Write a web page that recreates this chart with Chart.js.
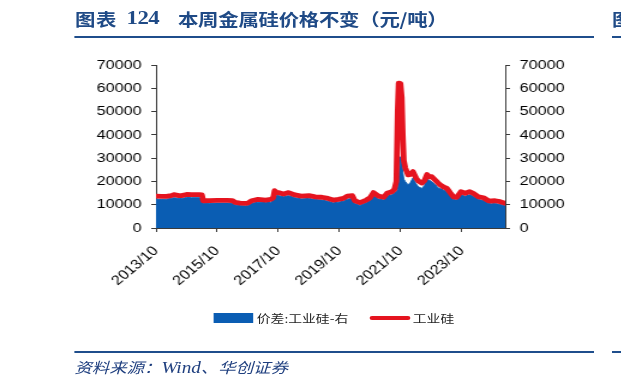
<!DOCTYPE html>
<html>
<head>
<meta charset="utf-8">
<script src="https://cdn.jsdelivr.net/npm/chart.js@4/dist/chart.umd.min.js"></script>
<style>
  html, body { margin: 0; padding: 0; background: #fff; }
  body { width: 621px; height: 387px; overflow: hidden; position: relative; }
  #wrap { position: absolute; left: 0; top: 0; width: 518px; height: 387px; transform: scaleX(1.2); transform-origin: 0 0; }
  .tt { position: absolute; top: 7px; font-family: "Noto Sans CJK SC", sans-serif; font-weight: 700; font-size: 17px; color: #1F4A86; white-space: nowrap; line-height: 24px; text-spacing-trim: space-all; }
  .tt.num { font-family: "Liberation Serif", serif; font-size: 19px; }
  .rule { position: absolute; height: 2px; background: #1F4E8C; }
  #src { position: absolute; left: 62px; top: 356px; font-family: "Noto Sans CJK SC", sans-serif; font-style: italic; font-size: 14.5px; color: #1F3F7F; white-space: nowrap; line-height: 22px; }
  #src .lat { font-family: "Liberation Serif", serif; font-size: 16px; }
  #legend { position: absolute; left: 0; top: 309px; width: 518px; height: 18px; font-family: "Noto Sans CJK SC", sans-serif; font-size: 11.5px; color: #222; }
  .lg { position: absolute; top: 0; height: 18px; line-height: 18px; white-space: nowrap; }
  .sw-box { position: absolute; width: 33px; height: 10px; top: 4px; background: #0A5DB3; }
  .sw-line { position: absolute; width: 34px; height: 4px; top: 7px; background: #E5141F; border-radius: 2px; }
  #frag { position: absolute; left: 510px; top: 7px; width: 8px; height: 24px; overflow: hidden; font-family: "Noto Sans CJK SC", sans-serif; font-weight: 700; font-size: 17px; color: #1F4A86; line-height: 24px; }
  canvas { position: absolute; left: 0; top: 0; }
</style>
</head>
<body>
<div id="wrap">
  <div class="tt" data-w="35" style="left:62.5px;">图表</div>
  <div class="tt num" data-w="27.5" style="left:105.5px; top:6px;">124</div>
  <div class="tt" data-w="225" style="left:148.3px;">本周金属硅价格不变（元/吨）</div>
  <div class="rule" style="left:61.5px; top:36px; width:433.5px;"></div>
  <div id="frag">图</div>
  <div class="rule" style="left:510px; top:36px; width:8px;"></div>
  <canvas id="c" width="518" height="387" style="width:518px;height:387px;"></canvas>
  <div id="legend">
    <div class="sw-box" style="left:177.5px;"></div>
    <div class="lg" style="left:214px;">价差:工业硅-右</div>
    <div class="sw-line" style="left:307.5px;"></div>
    <div class="lg" style="left:344px;">工业硅</div>
  </div>
  <div class="rule" style="left:61.5px; top:351px; width:433.5px;"></div>
  <div class="rule" style="left:510px; top:351px; width:8px;"></div>
  <div id="src">资料来源：<span class="lat">Wind</span>、华创证券</div>
</div>
<script>
// ---- data ----
const dates = [
  "2013/10/01","2013/12/01","2014/02/01","2014/04/01","2014/05/01","2014/07/01","2014/08/01","2014/10/01","2014/12/01","2015/03/01",
  "2015/04/01","2015/04/16","2015/07/01","2015/10/01","2016/02/01","2016/04/01","2016/05/01","2016/07/01","2016/09/01","2016/10/01",
  "2016/11/16","2017/02/01","2017/05/01","2017/07/01","2017/08/01","2017/08/16","2017/09/10","2017/10/01","2017/12/01","2018/02/01",
  "2018/04/16","2018/07/01","2018/10/01","2018/12/16","2019/03/01","2019/05/16","2019/07/16","2019/09/16","2019/11/16","2020/01/01",
  "2020/03/01","2020/04/01","2020/06/01","2020/08/16","2020/10/01","2020/11/10","2021/01/10","2021/03/10","2021/04/19","2021/06/16",
  "2021/07/16","2021/08/10","2021/08/25","2021/09/07","2021/09/28","2021/10/13","2021/10/25","2021/11/07","2021/11/25","2021/12/28",
  "2022/01/25","2022/02/25","2022/04/01","2022/04/28","2022/06/10","2022/07/10","2022/08/10","2022/09/07","2022/10/07","2022/11/16",
  "2022/12/22","2023/01/16","2023/02/22","2023/04/04","2023/05/16","2023/06/22","2023/08/01","2023/09/19","2023/11/10","2024/01/01",
  "2024/02/16","2024/04/16","2024/06/16","2024/08/13","2024/09/16","2024/11/01","2025/01/01","2025/03/01"
];
const siliconPrice = [
  13700,13600,13600,13900,14300,13900,13900,14400,14300,14300,
  14200,11700,11800,11900,11900,11800,11000,10700,10600,10700,
  11700,12300,12000,12300,13000,16000,15300,15200,14600,15200,
  14200,13700,13900,13400,13200,12700,12000,12300,12700,13700,
  13900,11700,10900,12000,13000,15200,13700,13200,14900,15600,
  16500,20000,50000,62200,62000,56000,40000,29000,25800,22800,
  23000,24200,21500,20200,19300,20300,23000,22000,22000,20600,
  19300,18500,17700,17000,15000,13400,13200,15600,14900,15600,
  14900,13400,13000,11700,11600,11700,11300,10600
];
const spreadRight = [
  12400,12300,12400,12700,13000,12700,12700,13100,13000,13000,
  12900,10600,10600,10700,10700,10600,9900,9600,9500,9600,
  10600,11100,10900,11000,11800,14600,14000,13900,13400,13900,
  13000,12500,12700,12200,12000,11500,10800,11100,11500,12400,
  12700,10500,9700,10800,11800,13900,12500,12000,13600,14300,
  15000,15500,16500,20000,30600,28500,24000,21000,19900,18500,
  19500,21500,19000,17700,17000,18200,21300,20500,19900,18700,
  17200,17000,16300,15600,13700,12200,12000,14300,13600,14300,
  13600,12200,11800,10500,10400,10500,10100,9500
];
const xTickLabels = ["2013/10","2015/10","2017/10","2019/10","2021/10","2023/10"];
const seriesNames = ["价差:工业硅-右", "工业硅"];

// fit title pieces to their widths in the reference
document.querySelectorAll(".tt[data-w]").forEach(el => {
  const target = parseFloat(el.dataset.w);
  const n = el.textContent.length;
  const nat = el.offsetWidth;
  el.style.letterSpacing = ((target - nat) / n) + "px";
});

// months elapsed since 2013/10
function monthIndex(s) {
  const [y, m, d] = s.split("/").map(Number);
  return (y - 2013) * 12 + (m - 10) + (d - 1) / 30;
}
const xs = dates.map(monthIndex);
const spreadPts = xs.map((x, i) => ({ x: x, y: spreadRight[i] }));
const pricePts = xs.map((x, i) => ({ x: x, y: siliconPrice[i] }));

const tickFont = { family: "'Liberation Sans', Arial, sans-serif", size: 13.5 };
const axisColor = "#3a3a3a";

new Chart(document.getElementById("c"), {
  type: "line",
  data: {
    datasets: [
      { label: seriesNames[0], data: spreadPts, yAxisID: "y2", fill: "origin",
        backgroundColor: "#0A5DB3", borderColor: "#0A5DB3", borderWidth: 1,
        pointRadius: 0, tension: 0, order: 1 },
      { label: seriesNames[1], data: pricePts, yAxisID: "y", fill: false,
        borderColor: "#E5141F", borderWidth: 4.8, pointRadius: 0, tension: 0,
        borderJoinStyle: "round", borderCapStyle: "round", order: 0 }
    ]
  },
  options: {
    responsive: false,
    animation: false,
    devicePixelRatio: 1,
    layout: { padding: { left: 0, right: 0, top: 65, bottom: 79 } },
    plugins: { legend: { display: false }, tooltip: { enabled: false } },
    scales: {
      x: {
        type: "linear", min: 0, max: 137, position: "bottom",
        ticks: {
          stepSize: 24, includeBounds: false, autoSkip: false,
          minRotation: 45, maxRotation: 45, font: tickFont, color: "#000", padding: 11,
          callback: (v) => xTickLabels[Math.round(v / 24)] ?? ""
        },
        grid: { display: true, drawOnChartArea: false, drawTicks: true, tickLength: 4, color: axisColor },
        border: { display: true, color: axisColor, width: 1 },
        afterFit: (s) => { s.height = 80; }
      },
      y: {
        position: "left", min: 0, max: 70000,
        ticks: { stepSize: 10000, font: tickFont, color: "#000", padding: 8, callback: (v) => String(v) },
        grid: { display: true, drawOnChartArea: false, drawTicks: true, tickLength: 4, color: axisColor },
        border: { display: true, color: axisColor, width: 1 },
        afterFit: (s) => { s.width = 130; }
      },
      y2: {
        position: "right", min: 0, max: 70000,
        ticks: { stepSize: 10000, font: tickFont, color: "#000", padding: 8, callback: (v) => String(v) },
        grid: { display: true, drawOnChartArea: false, drawTicks: true, tickLength: 4, color: axisColor },
        border: { display: true, color: axisColor, width: 1 },
        afterFit: (s) => { s.width = 97; }
      }
    }
  }
});
</script>
</body>
</html>
